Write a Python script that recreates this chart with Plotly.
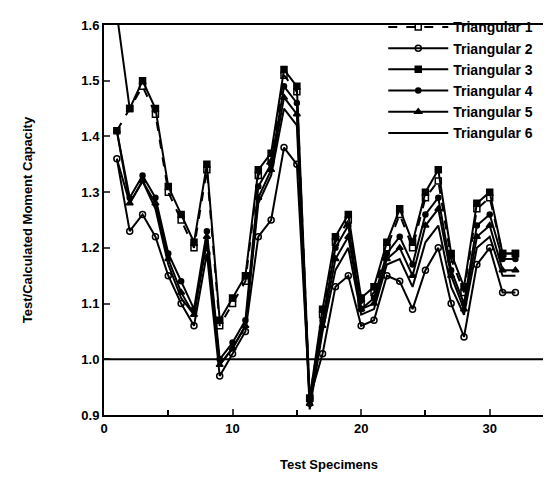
import plotly.graph_objects as go

specimens = list(range(1, 33))

tri1 = [1.41, 1.45, 1.49, 1.44, 1.30, 1.25, 1.20, 1.34, 1.06, 1.10, 1.14,
        1.33, 1.36, 1.51, 1.48, 0.93,
        1.08, 1.21, 1.25, 1.10, 1.12, 1.20, 1.26, 1.20, 1.29, 1.32, 1.18, 1.12, 1.27, 1.29, 1.19, 1.19]
tri2 = [1.36, 1.23, 1.26, 1.22, 1.15, 1.10, 1.06, 1.19, 0.97, 1.01, 1.05,
        1.22, 1.25, 1.38, 1.35, 0.93,
        1.01, 1.13, 1.15, 1.06, 1.07, 1.15, 1.14, 1.09, 1.16, 1.20, 1.10, 1.04, 1.17, 1.20, 1.12, 1.12]
tri3 = [1.62, 1.45, 1.50, 1.45, 1.31, 1.26, 1.21, 1.35, 1.07, 1.11, 1.15,
        1.34, 1.37, 1.52, 1.49, 0.93,
        1.09, 1.22, 1.26, 1.11, 1.13, 1.21, 1.27, 1.21, 1.30, 1.34, 1.19, 1.13, 1.28, 1.30, 1.19, 1.19]
tri4 = [1.41, 1.29, 1.33, 1.29, 1.19, 1.14, 1.09, 1.23, 1.00, 1.03, 1.07,
        1.31, 1.35, 1.49, 1.46, 0.92,
        1.07, 1.20, 1.24, 1.09, 1.11, 1.19, 1.22, 1.17, 1.26, 1.29, 1.16, 1.10, 1.24, 1.26, 1.18, 1.18]
tri5 = [1.41, 1.28, 1.32, 1.28, 1.18, 1.12, 1.08, 1.22, 0.99, 1.02, 1.06,
        1.29, 1.34, 1.47, 1.44, 0.92,
        1.06, 1.18, 1.22, 1.09, 1.10, 1.18, 1.20, 1.15, 1.24, 1.27, 1.15, 1.09, 1.22, 1.24, 1.16, 1.16]
tri6 = [1.36, 1.28, 1.32, 1.27, 1.17, 1.11, 1.08, 1.21, 0.99, 1.02, 1.06,
        1.28, 1.33, 1.45, 1.42, 0.91,
        1.05, 1.16, 1.20, 1.08, 1.09, 1.17, 1.18, 1.13, 1.21, 1.24, 1.13, 1.08, 1.20, 1.22, 1.15, 1.15]

y_ticks = [0.9, 1.0, 1.1, 1.2, 1.3, 1.4, 1.5, 1.6]
y_tick_text = ["0.9", "1.0", "1.1", "1.2", "1.3", "1.4", "1.5", "1.6"]
x_ticks = [0, 10, 20, 30]

FONT = "Liberation Sans"
fig = go.Figure()

series = [
    ("Triangular 1", tri1, "dash", "square-open", 6),
    ("Triangular 2", tri2, "solid", "circle-open", 6),
    ("Triangular 3", tri3, "solid", "square", 6),
    ("Triangular 4", tri4, "solid", "circle", 5),
    ("Triangular 5", tri5, "solid", "triangle-up", 6),
    ("Triangular 6", tri6, "solid", None, 0),
]
for name, vals, dash, sym, size in series:
    mode = "lines+markers" if sym else "lines"
    kw = dict(marker=dict(symbol=sym, size=size, color="black",
                          line=dict(color="black", width=1.5))) if sym else {}
    fig.add_trace(go.Scatter(x=specimens, y=vals, name=name, mode=mode,
                             line=dict(color="black", width=2, dash=dash),
                             cliponaxis=True, **kw))

fig.add_shape(type="line", xref="paper", yref="y", x0=0, x1=1, y0=1.0, y1=1.0,
              line=dict(color="black", width=2))

fig.update_layout(
    width=551, height=477,
    margin=dict(l=96, r=3, t=12, b=70),
    paper_bgcolor="white", plot_bgcolor="white",
    font=dict(family=FONT, color="black", size=13, weight="bold"),
    legend=dict(x=0.965, xanchor="right", y=1.035, yanchor="top",
                bgcolor="rgba(0,0,0,0)", font=dict(size=14, weight="bold"),
                tracegroupgap=0, itemwidth=60),
    xaxis=dict(range=[0, 35], tickvals=x_ticks, ticks="inside", ticklen=6,
               tickwidth=2, showgrid=False, zeroline=False, showline=True,
               linecolor="black", linewidth=2, mirror=True,
               minor=dict(dtick=5, ticks="inside", ticklen=5, tickwidth=2, tickcolor="black"),
               title=dict(text="Test Specimens", standoff=25, font=dict(size=13, weight="bold")),
               tickfont=dict(size=13, weight="bold")),
    yaxis=dict(range=[0.9, 1.6], tickvals=y_ticks, ticktext=y_tick_text,
               ticks="inside", ticklen=6, tickwidth=2, showgrid=False,
               zeroline=False, showline=True, linecolor="black", linewidth=2,
               mirror=True,
               title=dict(text="Test/Calculated Moment Capacity", standoff=46,
                          font=dict(size=13, weight="bold")),
               tickfont=dict(size=13, weight="bold")),
)

fig.write_html("out.html")
